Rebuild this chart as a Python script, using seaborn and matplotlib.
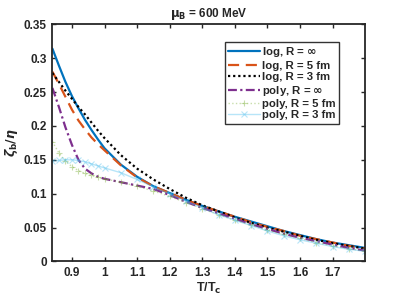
import numpy as np
import pandas as pd
import seaborn as sns
import matplotlib
matplotlib.use('Agg')
import matplotlib.pyplot as plt

# values
t_ratio = [0.84, 0.86, 0.88, 0.90, 0.92, 0.94, 0.96, 0.98, 1.00, 1.05, 1.10, 1.15, 1.20,
           1.25, 1.30, 1.35, 1.40, 1.45, 1.50, 1.55, 1.60, 1.65, 1.70, 1.75, 1.80]

log_inf = [0.314, 0.289, 0.265, 0.244, 0.226, 0.209, 0.194, 0.180, 0.167, 0.143, 0.125, 0.111, 0.101,
           0.091, 0.082, 0.074, 0.066, 0.059, 0.052, 0.045, 0.039, 0.033, 0.028, 0.024, 0.020]
log_5fm = [0.280, 0.262, 0.243, 0.224, 0.208, 0.195, 0.183, 0.173, 0.164, 0.142, 0.124, 0.111, 0.101,
           0.091, 0.082, 0.074, 0.066, 0.058, 0.051, 0.045, 0.038, 0.033, 0.028, 0.023, 0.019]
log_3fm = [0.278, 0.265, 0.252, 0.240, 0.228, 0.217, 0.205, 0.193, 0.182, 0.157, 0.137, 0.121, 0.107,
           0.094, 0.083, 0.074, 0.065, 0.057, 0.050, 0.044, 0.038, 0.032, 0.027, 0.023, 0.019]
poly_inf = [0.256, 0.228, 0.198, 0.172, 0.150, 0.137, 0.130, 0.125, 0.122, 0.117, 0.112, 0.107, 0.098,
            0.088, 0.079, 0.071, 0.063, 0.055, 0.048, 0.041, 0.035, 0.030, 0.025, 0.020, 0.016]
poly_5fm = [0.177, 0.160, 0.148, 0.140, 0.134, 0.130, 0.127, 0.124, 0.122, 0.117, 0.111, 0.104, 0.096,
            0.087, 0.078, 0.069, 0.061, 0.054, 0.046, 0.040, 0.034, 0.028, 0.023, 0.019, 0.015]
poly_3fm = [0.148, 0.149, 0.150, 0.150, 0.149, 0.147, 0.144, 0.141, 0.138, 0.131, 0.121, 0.110, 0.100,
            0.089, 0.079, 0.069, 0.061, 0.053, 0.045, 0.038, 0.032, 0.027, 0.022, 0.018, 0.015]

labels = ['log, R = $\\infty$', 'log, R = 5 fm', 'log, R = 3 fm',
          'poly, R = $\\infty$', 'poly, R = 5 fm', 'poly, R = 3 fm']
series = [log_inf, log_5fm, log_3fm, poly_inf, poly_5fm, poly_3fm]

sns.set_style('ticks')
plt.rcParams['font.family'] = ['Liberation Sans', 'DejaVu Sans']
plt.rcParams['font.weight'] = 'bold'
plt.rcParams['mathtext.fontset'] = 'dejavusans'

fig = plt.figure(figsize=(4.03, 3.03), dpi=100)
ax = fig.add_axes([0.13, 0.137, 0.776, 0.783])

styles = [
    dict(color='#0072BD', linestyle='-', linewidth=1.6),
    dict(color='#D95319', linestyle=(0, (5, 3)), linewidth=1.6),
    dict(color='black', linestyle=(0, (1, 1.3)), linewidth=1.6),
    dict(color='#7E2F8E', linestyle=(0, (4, 1.5, 1, 1.5)), linewidth=1.6),
    dict(color='#77AC30', linestyle=':', linewidth=1.0, alpha=0.4, marker='+',
         markersize=5, markeredgewidth=0.8, markeredgecolor='#77AC30'),
    dict(color='#4DBEEE', linestyle='-', linewidth=1.0, alpha=0.4, marker='x',
         markersize=4, markeredgewidth=0.8, markeredgecolor='#4DBEEE'),
]

for vals, lab, st in zip(series, labels, styles):
    df = pd.DataFrame({'t': t_ratio, 'v': vals})
    sns.lineplot(data=df, x='t', y='v', ax=ax, label=lab, **st)

ax.set_xlim(0.84, 1.8)
ax.set_ylim(0, 0.35)
ax.set_xticks([0.9, 1.0, 1.1, 1.2, 1.3, 1.4, 1.5, 1.6, 1.7])
ax.set_xticklabels(['0.9', '1', '1.1', '1.2', '1.3', '1.4', '1.5', '1.6', '1.7'])
ax.set_yticks([0, 0.05, 0.1, 0.15, 0.2, 0.25, 0.3, 0.35])
ax.set_yticklabels(['0', '0.05', '0.1', '0.15', '0.2', '0.25', '0.3', '0.35'])
ax.tick_params(direction='in', length=3, width=1, labelsize=8.5, top=True, right=True, pad=4)
for s in ax.spines.values():
    s.set_linewidth(1.3)
    s.set_visible(True)

ax.set_xlabel('T/T$_\\mathbf{c}$', fontsize=9, fontweight='bold', labelpad=1)
ax.set_ylabel('$\\zeta_\\mathbf{b}/\\eta$', fontsize=9, fontweight='bold', labelpad=3)
ax.set_title('$\\mathbf{\\mu_B}$ = 600 MeV', fontsize=8.5, fontweight='bold', pad=5)

leg = ax.legend(loc='upper right', bbox_to_anchor=(0.918, 0.925), fontsize=8.2, frameon=True,
                fancybox=False, edgecolor='black', handlelength=2.8, handletextpad=0.2,
                borderpad=0.3, labelspacing=0.12, borderaxespad=0)
leg.get_frame().set_linewidth(1.0)

fig.savefig('out.png', dpi=100)
